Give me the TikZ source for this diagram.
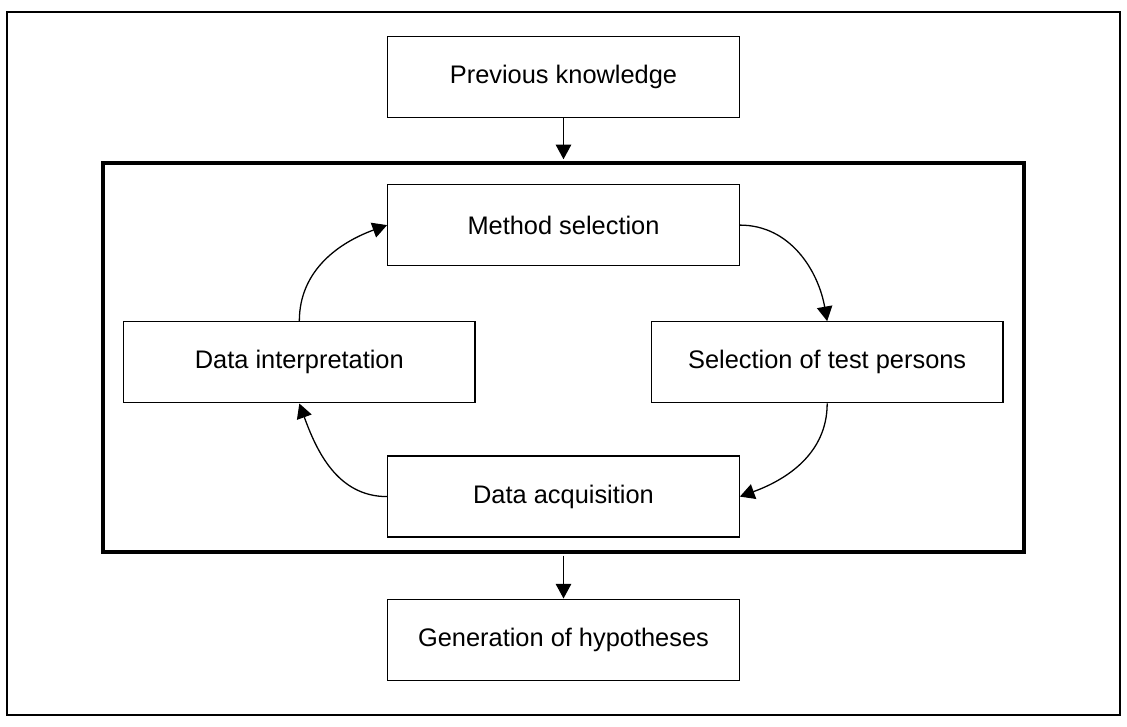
\documentclass[tikz,border=0pt]{standalone}
\usepackage{fontspec}
\setmainfont{Liberation Sans}
\usetikzlibrary{arrows.meta}

\tikzset{
    box/.style={draw, line width=0.75pt, minimum width=7.2cm, minimum height=1.66cm,
        inner sep=0pt, font=\fontsize{14.8}{17}\selectfont},
    arr/.style={line width=0.75pt, -{Triangle[length=8.5pt, width=9pt]}},
}

\begin{document}
\begin{tikzpicture}[x=0.02cm, y=0.02cm]
    \useasboundingbox (0, 0) rectangle (1154, 744);
    % outer frame
    \draw[line width=1.2pt] (7, 12) rectangle (1147, 732);

    % boxes
    \node[box] (prev) at (577, 665) {Previous knowledge};
    \node[draw, line width=2.3pt, minimum width=18.88cm, minimum height=7.96cm] (loop) at (577, 378) {};
    \node[box] (method) at (577, 513.5) {Method selection};
    \node[box] (interp) at (306.5, 373) {Data interpretation};
    \node[box] (select) at (847, 373) {Selection of test persons};
    \node[box] (acq) at (577, 235.5) {Data acquisition};
    \node[box] (hyp) at (577, 89) {Generation of hypotheses};

    % straight arrows
    \draw[arr, shorten >=1.1pt] (prev) -- (loop.north);
    \draw[arr, shorten <=1.1pt] (loop.south) -- (hyp);

    % cycle
    \draw[arr] (interp.north) to[out=90, in=200] (method.west);
    \draw[arr] (method.east) to[out=0, in=100] (select.north);
    \draw[arr] (select.south) to[out=-90, in=20] (acq.east);
    \draw[arr] (acq.west) to[out=180, in=-70] (interp.south);
\end{tikzpicture}
\end{document}
